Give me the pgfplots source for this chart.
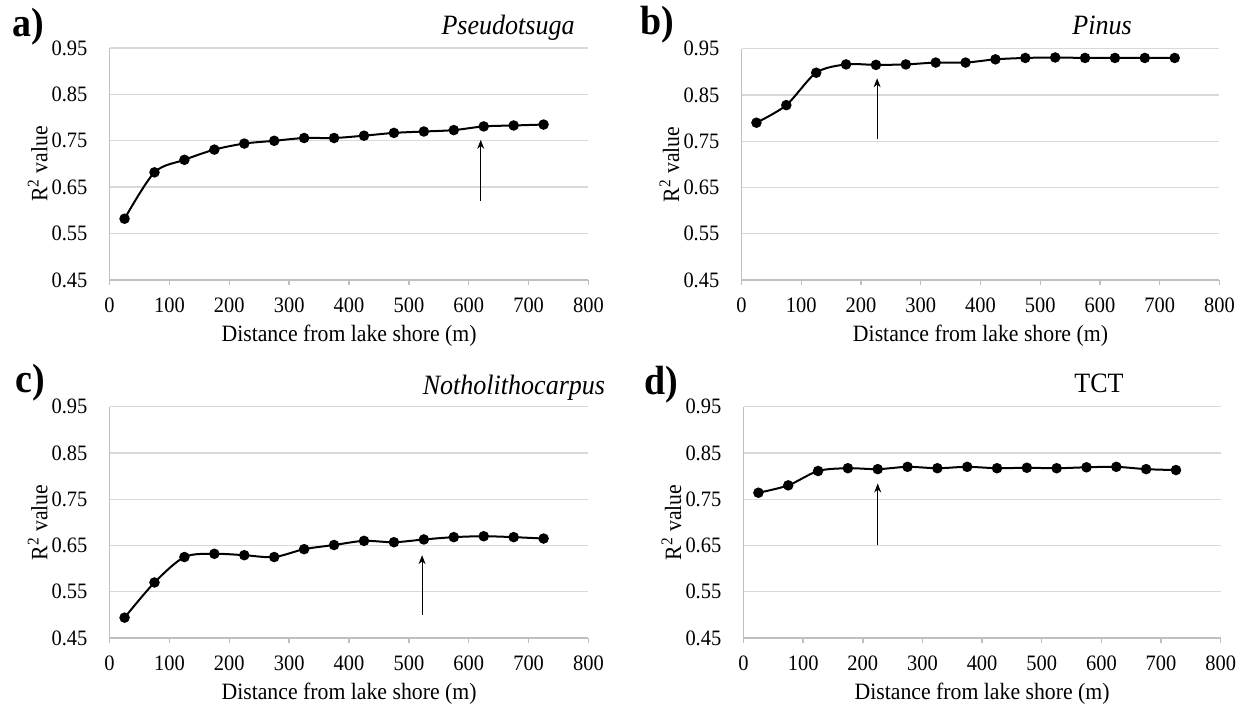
\documentclass[border=0pt]{standalone}
\usepackage{pgfplots}
\pgfplotsset{compat=1.18}
\usepackage{pgfplotstable}
\usepackage{fontspec}
\setmainfont{Liberation Serif}[FakeStretch=0.93]
\usetikzlibrary{arrows.meta}

\pgfplotstableread{
x y
25 0.582
75 0.682
125 0.709
175 0.731
225 0.744
275 0.750
325 0.756
375 0.756
425 0.761
475 0.767
525 0.770
575 0.773
625 0.781
675 0.783
725 0.785
}\dataA
\pgfplotstableread{
x y
25 0.790
75 0.828
125 0.898
175 0.916
225 0.915
275 0.916
325 0.920
375 0.920
425 0.927
475 0.930
525 0.931
575 0.930
625 0.930
675 0.930
725 0.930
}\dataB
\pgfplotstableread{
x y
25 0.494
75 0.570
125 0.625
175 0.632
225 0.629
275 0.625
325 0.642
375 0.651
425 0.660
475 0.657
525 0.663
575 0.668
625 0.670
675 0.668
725 0.665
}\dataC
\pgfplotstableread{
x y
25 0.764
75 0.780
125 0.811
175 0.817
225 0.815
275 0.820
325 0.817
375 0.820
425 0.817
475 0.818
525 0.817
575 0.819
625 0.820
675 0.815
725 0.813
}\dataD

\definecolor{gridgray}{RGB}{217,217,217}
\definecolor{axgray}{RGB}{191,191,191}

\pgfplotsset{
  panel/.style={
    scale only axis,
    anchor=south west,
    xmin=0, xmax=800, ymin=0.45, ymax=0.95,
    xtick={0,100,200,300,400,500,600,700,800},
    xticklabels={0,100,200,300,400,500,600,700,800},
    ytick={0.45,0.55,0.65,0.75,0.85,0.95},
    yticklabels={0.45,0.55,0.65,0.75,0.85,0.95},
    axis x line*=bottom, axis y line*=left,
    axis line style={axgray, line width=0.7pt, -},
    ymajorgrids, grid style={gridgray, line width=0.7pt},
    tick align=outside,
    major tick length=2.5pt,
    xtick style={axgray, line width=0.7pt},
    ytick style={draw=none},
    ticklabel style={font=\fontsize{11}{13}\selectfont, text=black, inner sep=0pt},
    yticklabel style={anchor=east, xshift=-8.4pt},
    xticklabel style={anchor=base, yshift=-14pt},
    clip=false,
  },
  series/.style={black, line width=1pt, smooth, tension=0.5, mark=*, mark size=2.1pt, mark options={solid, fill=black}},
}
\newcommand{\lbls}{%
  \node[font=\fontsize{11.7}{14}\selectfont, rotate=90] at ([xshift=-36pt]rel axis cs:0,0.5) {R\textsuperscript{2} value};
  \node[font=\fontsize{11.7}{14}\selectfont, anchor=base] at ([yshift=-31pt]rel axis cs:0.5,0) {Distance from lake shore (m)};
}

\begin{document}
\begin{tikzpicture}
\path[use as bounding box] (0,0) rectangle (621pt,352.5pt);

% a
\begin{axis}[panel, at={(54.8pt,212.5pt)}, width=239.45pt, height=116pt]
\addplot[series] table[x=x,y=y] {\dataA};
\draw[-{Stealth[length=4.5pt,width=3.5pt]}, line width=0.5pt] (axis cs:620,0.621) -- (axis cs:620,0.752);
\lbls
\end{axis}

% b
\begin{axis}[panel, at={(370.75pt,212.5pt)}, width=239pt, height=115.65pt]
\addplot[series] table[x=x,y=y] {\dataB};
\draw[-{Stealth[length=4.5pt,width=3.5pt]}, line width=0.5pt] (axis cs:227,0.755) -- (axis cs:227,0.886);
\lbls
\end{axis}

% c
\begin{axis}[panel, at={(54.8pt,33.5pt)}, width=239.45pt, height=115.65pt]
\addplot[series] table[x=x,y=y] {\dataC};
\draw[-{Stealth[length=4.5pt,width=3.5pt]}, line width=0.5pt] (axis cs:522,0.500) -- (axis cs:522,0.629);
\lbls
\end{axis}

% d
\begin{axis}[panel, at={(371.75pt,33.5pt)}, width=238.6pt, height=115.65pt]
\addplot[series] table[x=x,y=y] {\dataD};
\draw[-{Stealth[length=4.5pt,width=3.5pt]}, line width=0.5pt] (axis cs:225,0.652) -- (axis cs:225,0.784);
\lbls
\end{axis}

% panel letters and titles
\node[font=\fontsize{20.4}{23}\selectfont\bfseries] at (14pt,339.25pt) {a)};
\node[font=\fontsize{20.4}{23}\selectfont\bfseries] at (328.8pt,340pt) {b)};
\node[font=\fontsize{20.4}{23}\selectfont\bfseries] at (15.35pt,161pt) {c)};
\node[font=\fontsize{20.4}{23}\selectfont\bfseries] at (330.85pt,160.25pt) {d)};
\node[font=\fontsize{14}{16}\selectfont\itshape, anchor=base east, inner sep=0pt] at (287.5pt,335pt) {Pseudotsuga};
\node[font=\fontsize{14}{16}\selectfont\itshape, anchor=base, inner sep=0pt] at (551pt,335pt) {Pinus};
\node[font=\fontsize{14}{16}\selectfont\itshape, anchor=base east, inner sep=0pt] at (302.75pt,155pt) {Notholithocarpus};
\node[font=\fontsize{14}{16}\selectfont, anchor=base, inner sep=0pt] at (549.5pt,156pt) {TCT};
\end{tikzpicture}
\end{document}
